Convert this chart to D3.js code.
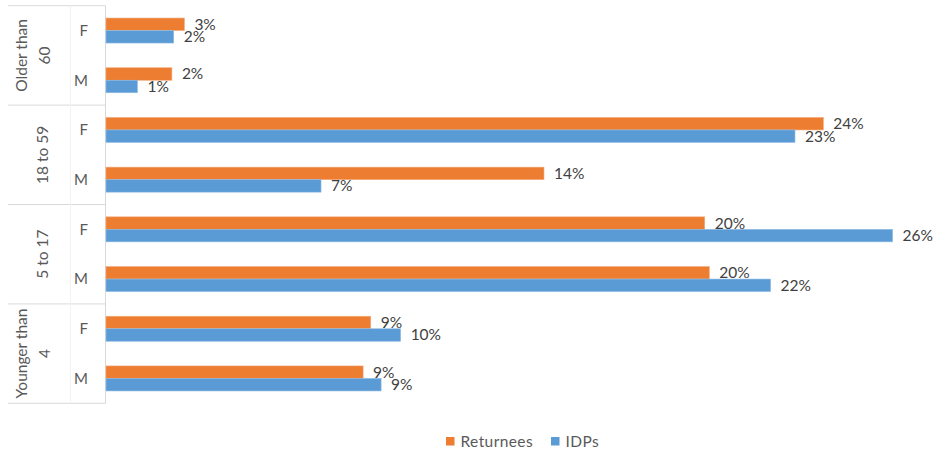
<!DOCTYPE html>
<html><head><meta charset="utf-8">
<script src="https://cdn.jsdelivr.net/npm/d3@7"></script>
<style>body{margin:0;background:#fff}svg{display:block}</style>
</head><body>
<svg id="c" width="942" height="453"></svg>
<script>
const groups = [["Older than","60"],["18 to 59"],["5 to 17"],["Younger than","4"]];
const sexes = ["F","M"];
const seriesNames = ["Returnees","IDPs"];
const colors = ["#ED7D31","#5B9BD5"];
// values in order: Older F, Older M, 18-59 F, 18-59 M, 5-17 F, 5-17 M, <4 F, <4 M
const returnees = [0.0257,0.0216,0.2352,0.1436,0.1963,0.1978,0.0868,0.0843];
const idps      = [0.0222,0.0103,0.2259,0.0705,0.2579,0.2179,0.0966,0.0902];
const returneeLabels = ["3%","2%","24%","14%","20%","20%","9%","9%"];
const idpLabels      = ["2%","1%","23%","7%","26%","22%","10%","9%"];

(function(){
const svg = d3.select("#c");
const plotTop = 5.7, plotBottom = 403.3, axisX = 105.5, leftX = 8, midX = 70.5;
const cats = [];
groups.forEach((g,gi)=>sexes.forEach(s=>cats.push(gi+"|"+s)));
const y = d3.scaleBand().domain(cats).range([plotTop,plotBottom]).paddingInner(0).paddingOuter(0);
const yg = d3.scaleBand().domain(groups.map((g,i)=>i)).range([plotTop,plotBottom]);
const x = d3.scaleLinear().domain([0,0.3]).range([106,106+30*30.5]);
const series = [returnees, idps];
const labels = [returneeLabels, idpLabels];
const barH = 12.5;

const lineCol = "#d9d9d9";
yg.domain().forEach(i=>{
  svg.append("line").attr("x1",leftX).attr("x2",axisX).attr("y1",yg(i)).attr("y2",yg(i)).attr("stroke",lineCol).attr("stroke-width",1);
});
svg.append("line").attr("x1",leftX).attr("x2",axisX).attr("y1",plotBottom).attr("y2",plotBottom).attr("stroke",lineCol);
svg.append("line").attr("x1",midX).attr("x2",midX).attr("y1",plotTop).attr("y2",plotBottom).attr("stroke","#f2f2f2");
svg.append("line").attr("x1",axisX).attr("x2",axisX).attr("y1",plotTop).attr("y2",plotBottom).attr("stroke",lineCol);

series.forEach((vals,si)=>{
  svg.append("g").selectAll("rect").data(vals).join("rect")
    .attr("x",x(0))
    .attr("y",(d,i)=>y(cats[i])+y.bandwidth()/2 - barH + si*barH)
    .attr("width",d=>x(d)-x(0))
    .attr("height",barH)
    .attr("fill",colors[si])
    .attr("stroke", si===0 ? "#f4a877" : "#8fbce6").attr("stroke-width",0.6);
  svg.append("g").selectAll("text").data(vals).join("text")
    .attr("x",d=>x(d)+10)
    .attr("y",(d,i)=>y(cats[i])+y.bandwidth()/2 - barH/2 + si*barH)
    .attr("dy","0.35em")
    .attr("font-family","Lato, sans-serif").attr("font-size",15.5).attr("fill","#404040")
    .text((d,i)=>labels[si][i]);
});

svg.append("g").selectAll("text").data(cats).join("text")
  .attr("x",88).attr("y",d=>y(d)+y.bandwidth()/2).attr("dy","0.35em")
  .attr("text-anchor","end")
  .attr("font-family","Lato, sans-serif").attr("font-size",15).attr("fill","#595959")
  .text(d=>d.split("|")[1]);

groups.forEach((g,gi)=>{
  const cy = yg(gi)+yg.bandwidth()/2;
  const xs = g.length===2 ? [21.5,44.5] : [43];
  g.forEach((t,li)=>{
    svg.append("text")
      .attr("transform",`translate(${xs[li]},${cy}) rotate(-90)`)
      .attr("text-anchor","middle").attr("dy","0.35em")
      .attr("font-family","Lato, sans-serif").attr("font-size",15.5).attr("fill","#595959")
      .text(t);
  });
});

const legend = svg.append("g");
const legX = [446,551];
seriesNames.forEach((n,i)=>{
  legend.append("rect").attr("x",legX[i]).attr("y",437).attr("width",8.5).attr("height",8.5).attr("fill",colors[i]);
  legend.append("text").attr("x",legX[i]+14.5).attr("y",441.5).attr("dy","0.35em")
    .attr("font-family","Lato, sans-serif").attr("font-size",15.5).attr("letter-spacing",0.4).attr("fill","#595959")
    .text(n);
});
})();
</script>
</body></html>
